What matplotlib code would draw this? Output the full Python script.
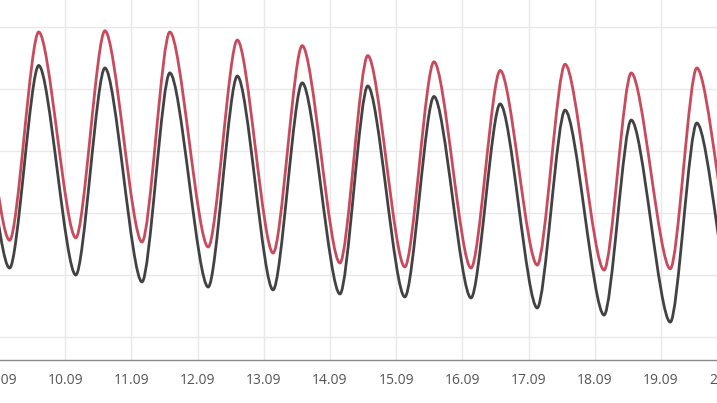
import numpy as np
import matplotlib.pyplot as plt
from matplotlib.path import Path
from matplotlib.patches import PathPatch

plt.rcParams['font.family'] = ['Open Sans', 'DejaVu Sans']

# x in days since 09.09 00:00
day_labels = ['09.09', '10.09', '11.09', '12.09', '13.09', '14.09',
              '15.09', '16.09', '17.09', '18.09', '19.09', '20.09']

peak_t = [-0.42, 0.60, 1.60, 2.58, 3.60, 4.58, 5.57, 6.57, 7.57, 8.55, 9.55, 10.54]
trough_t = [0.16, 1.16, 2.16, 3.16, 4.14, 5.15, 6.13, 7.13, 8.13, 9.14, 10.14, 11.14]

red_peak = [29.6, 29.6, 29.7, 29.6, 28.95, 28.5, 27.7, 27.2, 26.5, 27.0, 26.3, 26.7]
red_trough = [12.8, 13.0, 12.66, 12.26, 11.77, 10.97, 10.65, 10.56, 10.8, 10.4, 10.5, 10.5]

gray_peak = [27.0, 26.9, 26.7, 26.3, 26.05, 25.5, 25.25, 24.4, 23.8, 23.3, 22.5, 22.26]
gray_trough = [10.56, 10.0, 9.44, 9.03, 8.8, 8.47, 8.23, 8.15, 7.34, 6.77, 6.2, 6.0]


def smooth_path(t, v, k=0.28):
    # cubic bezier between extremes, flat tangents at each peak/trough
    verts = [(t[0], v[0])]
    codes = [Path.MOVETO]
    for i in range(len(t) - 1):
        dt = t[i + 1] - t[i]
        verts += [(t[i] + k * dt, v[i]), (t[i + 1] - k * dt, v[i + 1]), (t[i + 1], v[i + 1])]
        codes += [Path.CURVE4] * 3
    return Path(verts, codes)


def interleave(a_t, a_v, b_t, b_v):
    t, v = [], []
    for i in range(len(a_t)):
        t += [a_t[i], b_t[i]]
        v += [a_v[i], b_v[i]]
    return t, v


fig = plt.figure(figsize=(7.17, 4.03), dpi=100)
ax = fig.add_axes([-40 / 717, 43 / 403, 800 / 717, 360 / 403])

for pv, tv, col in [(gray_peak, gray_trough, '#424242'), (red_peak, red_trough, '#c94a5c')]:
    t, v = interleave(peak_t, pv, trough_t, tv)
    ax.add_patch(PathPatch(smooth_path(t, v), fill=False, edgecolor=col,
                           linewidth=2.0, capstyle='round', joinstyle='round', zorder=3))

ax.set_xlim(-0.589, 11.495)
ax.set_ylim(3.145, 32.18)
ax.set_xticks(np.arange(len(day_labels)))
ax.set_xticklabels(day_labels)
ax.set_yticks([5, 10, 15, 20, 25, 30])
ax.set_yticklabels([])
ax.tick_params(axis='both', length=0)
ax.tick_params(axis='x', pad=9, labelsize=10, labelcolor='#555555')
ax.grid(True, color='#e8e8e8', linewidth=1)
ax.set_axisbelow(True)
for s in ['top', 'left', 'right']:
    ax.spines[s].set_visible(False)
ax.spines['bottom'].set_color('#8a8a8a')
ax.spines['bottom'].set_linewidth(1)

fig.savefig('out.png', dpi=100)
